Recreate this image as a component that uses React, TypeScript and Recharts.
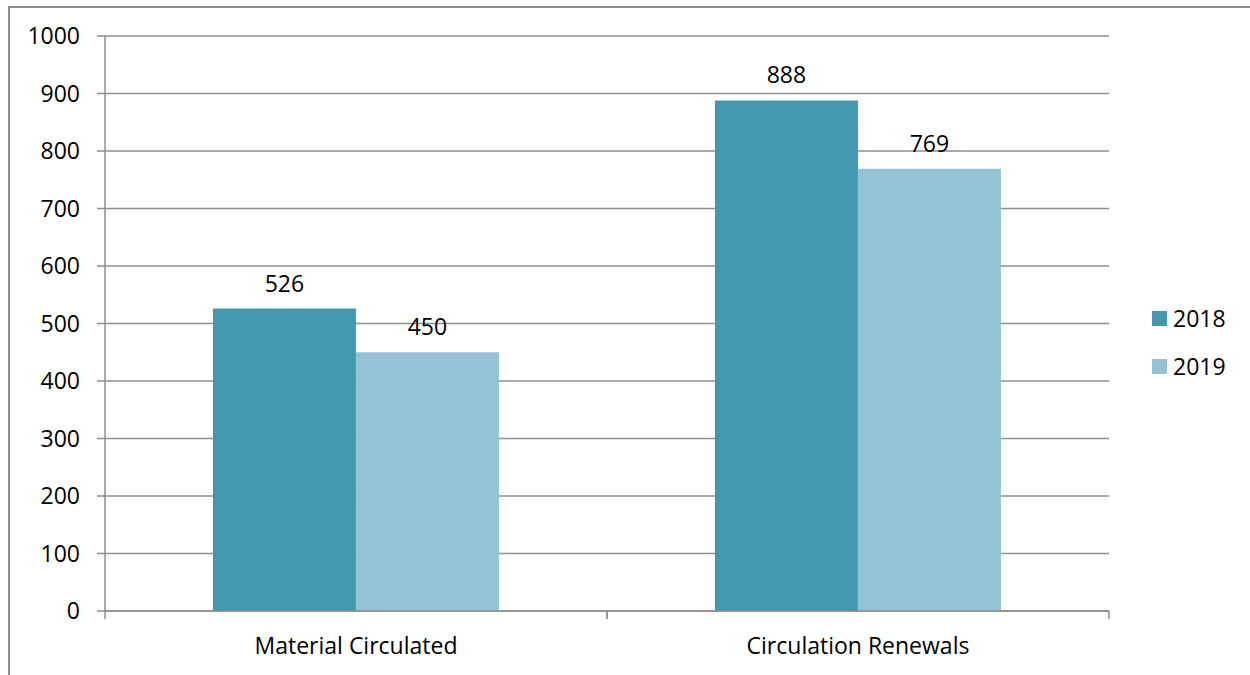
import React from 'react';
import { BarChart, Bar, XAxis, YAxis, CartesianGrid, Legend, LabelList } from 'recharts';

// data
const categories = ['Material Circulated', 'Circulation Renewals'];
const values2018 = [526, 888];
const values2019 = [450, 769];
const yTicks = [0, 100, 200, 300, 400, 500, 600, 700, 800, 900, 1000];

const seriesNames = ['2018', '2019'];
const colors = ['#4398b0', '#93c3d4'];

const data = categories.map((name, i) => ({
  name,
  '2018': values2018[i],
  '2019': values2019[i],
}));

const FONT = '"Open Sans", sans-serif';
const AXIS_GRAY = '#8e8e8e';
const X_TICK_MARGIN = 27;

// category label plus tick marks on the band edges (Excel style)
function CategoryTick(props: any) {
  const { x, y, payload, width } = props;
  const half = payload.offset ?? width / categories.length / 2;
  const axisY = y - X_TICK_MARGIN;
  return (
    <g>
      <line x1={x - half} x2={x - half} y1={axisY} y2={axisY + 8} stroke={AXIS_GRAY} strokeWidth={1.5} />
      <line x1={x + half} x2={x + half} y1={axisY} y2={axisY + 8} stroke={AXIS_GRAY} strokeWidth={1.5} />
      <text x={x} y={y} dy="0.71em" textAnchor="middle" fill="#000" fontSize={23} fontFamily={FONT}>
        {payload.value}
      </text>
    </g>
  );
}

function LegendBox() {
  return (
    <div style={{ fontFamily: FONT, fontSize: 23, color: '#000' }}>
      {seriesNames.map((s, i) => (
        <div key={s} style={{ display: 'flex', alignItems: 'center', height: 48 }}>
          <span style={{ display: 'inline-block', width: 15, height: 15, background: colors[i], marginRight: 6 }} />
          <span>{s}</span>
        </div>
      ))}
    </div>
  );
}

export default function App() {
  return (
    <div
      style={{
        position: 'absolute',
        left: 8,
        top: 6,
        width: 1242,
        height: 669,
        borderLeft: `2px solid ${AXIS_GRAY}`,
        borderTop: `2px solid ${AXIS_GRAY}`,
        background: '#fff',
      }}
    >
      <BarChart
        width={1240}
        height={667}
        data={data}
        margin={{ top: 28, right: 141, left: 0, bottom: 0 }}
        barCategoryGap="21.5%"
        barGap={0}
      >
        <CartesianGrid vertical={false} stroke={AXIS_GRAY} strokeWidth={1.5} />
        <XAxis
          dataKey="name"
          height={64}
          tickSize={0}
          tickMargin={X_TICK_MARGIN}
          axisLine={{ stroke: AXIS_GRAY, strokeWidth: 1.5 }}
          tick={<CategoryTick />}
          interval={0}
        />
        <YAxis
          width={95}
          domain={[0, 1000]}
          ticks={yTicks}
          interval={0}
          tickSize={8}
          tickMargin={17}
          axisLine={{ stroke: AXIS_GRAY, strokeWidth: 1.5 }}
          tickLine={{ stroke: AXIS_GRAY, strokeWidth: 1.5 }}
          tick={{ fill: '#000', fontSize: 23, fontFamily: FONT }}
        />
        <Legend
          layout="horizontal"
          verticalAlign="middle"
          align="center"
          content={<LegendBox />}
          wrapperStyle={{ position: 'absolute', left: 1142, top: 286, width: 100 }}
        />
        {seriesNames.map((s, i) => (
          <Bar key={s} dataKey={s} fill={colors[i]} isAnimationActive={false}>
            <LabelList dataKey={s} position="top" offset={17} fill="#000" fontSize={23} fontFamily={FONT} />
          </Bar>
        ))}
      </BarChart>
    </div>
  );
}
